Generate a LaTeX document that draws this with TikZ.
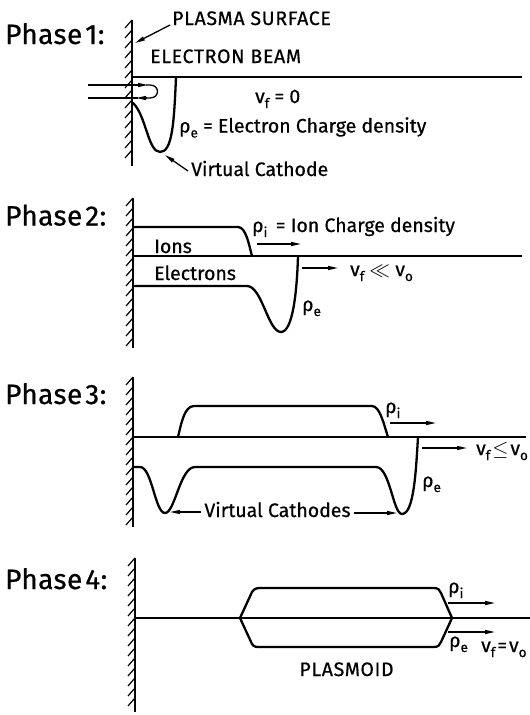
\documentclass[tikz,border=0pt]{standalone}
\usepackage{fontspec}
\setmainfont{Fira Sans}[FakeBold=0.6]
\usetikzlibrary{arrows.meta}
\newcommand\lsub[1]{\raisebox{-5pt}{\fontsize{13.5}{13.5}\selectfont #1}}
\newcommand\wallat[3]{%
  \draw[wallline] (#1,#2) -- (#1,#3);
  \pgfmathtruncatemacro\ystart{#2}%
  \pgfmathtruncatemacro\ynext{#2+10}%
  \pgfmathtruncatemacro\yend{#3-8}%
  \foreach \yy in {\ystart,\ynext,...,\yend}{\draw[hatch] (#1,\yy) -- ++(-7,8);}}
\begin{document}
\begin{tikzpicture}[x=1pt,y=-1pt,
  curve/.style={line width=2.3pt,line cap=round,line join=round},
  axis/.style={line width=1.4pt},
  wallline/.style={line width=2pt},
  hatch/.style={line width=1.2pt},
  arr/.style={line width=1.3pt,-{Triangle[length=10pt,width=4pt]}},
  phase/.style={font=\fontsize{28}{28}\selectfont\addfontfeatures{LetterSpace=1.5},inner sep=0pt,anchor=base west},
  lbl/.style={font=\fontsize{19.5}{19.5}\selectfont,inner sep=0pt,anchor=base west},
  capslbl/.style={lbl,font=\fontsize{19.5}{19.5}\selectfont\addfontfeatures{LetterSpace=3.5}}]
\useasboundingbox (0,0) rectangle (530,715);

% ---------- walls ----------
\wallat{132}{20}{166}
\wallat{133}{198}{348}
\wallat{133}{377}{527}
\wallat{135}{558}{712}

% ---------- Phase 1 ----------
\node[phase] (p1) at (5,44) {Phase\kern3pt1:};
\node[capslbl] (ps) at (172,25) {PLASMA SURFACE};
\node[capslbl] (eb) at (150,63) {ELECTRON BEAM};
\node[lbl] (vf1) at (255,103) {v\lsub{f} = 0};
\node[lbl] (rho1) at (179,132.5) {ρ\lsub{e} = Electron Charge density};
\node[lbl] (vc1) at (191,176) {Virtual Cathode};
\coordinate (psTip) at (135,43);
\coordinate (vcTip) at (165,155);
\draw[arr] ([xshift=-2pt]ps.base west) -- (psTip);
\draw[arr] ([xshift=-3pt,yshift=5pt]vc1.base west) -- (vcTip);
\draw[axis] (132,77) -- (522,77);
\draw[curve] (176,77) .. controls (174,125) and (172,152) .. (160,152)
  .. controls (148,152) and (146,115) .. (133,103);
% reflected electrons
\draw[arr] (88,85) -- (148,85);
\draw[line width=1.3pt] (146,85) -- (150,85) .. controls (160,85) and (160,98) .. (150,98) -- (146,98);
\draw[arr] (147,98) -- (136,98);
\draw[line width=1.3pt] (138,98) -- (88,98);

% ---------- Phase 2 ----------
\node[phase] (p2) at (5,225.5) {Phase\kern3pt2:};
\node[lbl] (rhoi2) at (252,232) {ρ\lsub{i} \,= Ion Charge density};
\node[lbl] (ions) at (154,253) {Ions};
\node[lbl] (elec) at (154,280) {Electrons};
\node[lbl] (vf2) at (350,276) {v\lsub{f} $\ll$ v\lsub{o}};
\node[lbl] (rhoe2) at (302,311) {ρ\lsub{e}};
\coordinate (a2s) at (257,244); \coordinate (a2e) at (301,244);
\coordinate (b2s) at (302,268); \coordinate (b2e) at (338,268);
\draw[arr] (a2s) -- (a2e);
\draw[arr] (b2s) -- (b2e);
\draw[axis] (133,256) -- (522,256);
\draw[curve] (133,227) -- (238,227) .. controls (246,227) and (249,245) .. (252,256);
\draw[curve] (133,286) -- (247,286) .. controls (262,286) and (268,332) .. (281,332)
  .. controls (293,332) and (297,290) .. (298,256);

% ---------- Phase 3 ----------
\node[phase] (p3) at (5,404) {Phase\kern3pt3:};
\node[lbl] (rhoi3) at (385,413) {ρ\lsub{i}};
\node[lbl] (vf3) at (476,455) {v\lsub{f}\kern2pt$\leq$\kern2pt v\lsub{o}};
\node[lbl] (rhoe3) at (422,487) {ρ\lsub{e}};
\node[lbl,anchor=base] (vc3) at (277.5,517) {Virtual Cathodes};
\coordinate (a3s) at (390,423); \coordinate (a3e) at (436,423);
\coordinate (b3s) at (422,448); \coordinate (b3e) at (467,448);
\coordinate (vcL) at (170,512); \coordinate (vcR) at (397,513);
\draw[arr] ([xshift=-3pt]vc3.west |- vcL) -- (vcL);
\draw[arr] ([xshift=3pt]vc3.east |- vcR) -- (vcR);
\draw[arr] (a3s) -- (a3e);
\draw[arr] (b3s) -- (b3e);
\draw[axis] (133,437) -- (526,437);
\draw[curve] (178,437) .. controls (181,425) and (184,406) .. (194,406) -- (372,406)
  .. controls (380,406) and (384,425) .. (388,437);
\draw[curve] (133,467) -- (140,467) .. controls (152,467) and (155,513) .. (165,513)
  .. controls (175,513) and (180,467) .. (195,467) -- (376,467)
  .. controls (390,467) and (393,514) .. (402,514)
  .. controls (414,514) and (416,470) .. (418,437);

% ---------- Phase 4 ----------
\node[phase] (p4) at (5,589) {Phase\kern3pt4:};
\node[lbl] (rhoi4) at (448,593) {ρ\lsub{i}};
\node[lbl] (rhoe4) at (449,647) {ρ\lsub{e}};
\node[lbl] (vf4) at (481,652) {v\lsub{f}\kern2pt=\kern2pt v\lsub{o}};
\node[capslbl,anchor=base] (plas) at (346.5,676) {PLASMOID};
\coordinate (a4s) at (448,603); \coordinate (a4e) at (495,603);
\coordinate (b4s) at (448,632); \coordinate (b4e) at (495,632);
\draw[arr] (a4s) -- (a4e);
\draw[arr] (b4s) -- (b4e);
\draw[axis] (135,618) -- (530,618);
\draw[curve] (240,618) -- (252,592) .. controls (254,589) and (256,588) .. (260,588) -- (434,588)
  .. controls (438,588) and (440,590) .. (441,593) -- (452,618);
\draw[curve] (240,618) -- (252,644) .. controls (254,647) and (256,647) .. (260,647) -- (434,647)
  .. controls (438,647) and (440,645) .. (441,642) -- (452,618);
\end{tikzpicture}
\end{document}
